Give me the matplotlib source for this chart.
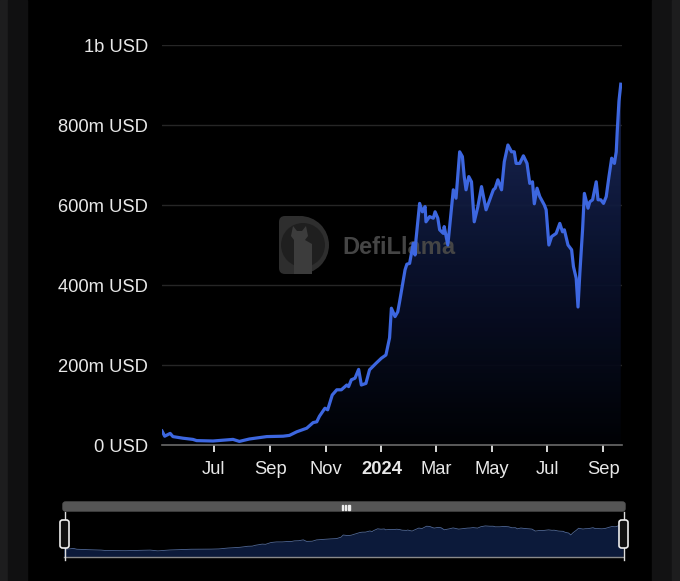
import matplotlib
matplotlib.use('Agg')
from matplotlib import pyplot as plt
from matplotlib.patches import FancyBboxPatch, Rectangle, Wedge, Circle, Polygon
import matplotlib.dates as mdates
import numpy as np
import pandas as pd

# TVL (millions of USD)
dates = ['2023-05-05', '2023-05-08', '2023-05-14', '2023-05-17', '2023-05-28',
         '2023-06-08', '2023-06-12', '2023-06-30', '2023-07-22', '2023-07-29',
         '2023-08-09', '2023-08-28', '2023-09-15', '2023-09-22', '2023-09-30',
         '2023-10-11', '2023-10-18', '2023-10-22', '2023-10-25', '2023-10-31',
         '2023-11-03', '2023-11-08', '2023-11-13', '2023-11-18', '2023-11-24',
         '2023-11-26', '2023-11-29', '2023-12-03', '2023-12-07', '2023-12-10',
         '2023-12-15', '2023-12-19', '2023-12-26', '2024-01-01', '2024-01-06',
         '2024-01-10', '2024-01-12', '2024-01-16', '2024-01-19', '2024-01-21',
         '2024-01-27', '2024-01-29', '2024-02-01', '2024-02-05', '2024-02-07',
         '2024-02-08', '2024-02-12', '2024-02-15', '2024-02-18', '2024-02-19',
         '2024-02-23', '2024-02-27', '2024-02-29', '2024-03-03', '2024-03-05',
         '2024-03-09', '2024-03-10', '2024-03-14', '2024-03-16', '2024-03-20',
         '2024-03-23', '2024-03-27', '2024-03-30', '2024-04-01', '2024-04-03',
         '2024-04-06', '2024-04-09', '2024-04-12', '2024-04-16', '2024-04-20',
         '2024-04-25', '2024-04-29', '2024-05-03', '2024-05-05', '2024-05-08',
         '2024-05-12', '2024-05-15', '2024-05-19', '2024-05-23', '2024-05-26',
         '2024-05-28', '2024-06-01', '2024-06-05', '2024-06-09', '2024-06-12',
         '2024-06-15', '2024-06-17', '2024-06-20', '2024-06-23', '2024-06-28',
         '2024-06-30', '2024-07-03', '2024-07-06', '2024-07-11', '2024-07-15',
         '2024-07-18', '2024-07-20', '2024-07-24', '2024-07-28', '2024-07-30',
         '2024-08-02', '2024-08-04', '2024-08-06', '2024-08-09', '2024-08-11',
         '2024-08-15', '2024-08-17', '2024-08-20', '2024-08-24', '2024-08-26',
         '2024-08-29', '2024-09-01', '2024-09-04', '2024-09-07', '2024-09-10',
         '2024-09-13', '2024-09-15', '2024-09-16', '2024-09-18', '2024-09-20']
tvl = [35, 22, 29, 21, 17,
       14, 11, 10, 14, 9,
       15, 21, 22, 24, 33,
       42, 56, 58, 72, 92,
       88, 125, 138, 138, 150,
       146, 163, 167, 189, 150,
       154, 188, 204, 217, 225,
       268, 342, 321, 333, 358,
       438, 452, 454, 504, 475,
       513, 604, 583, 596, 558,
       571, 567, 583, 567, 538,
       529, 546, 500, 546, 638,
       617, 733, 721, 671, 638,
       671, 658, 558, 596, 646,
       588, 613, 638, 642, 663,
       638, 708, 750, 733, 733,
       704, 704, 723, 704, 654,
       658, 603, 642, 621, 600,
       588, 500, 521, 529, 554,
       533, 538, 500, 488, 446,
       417, 345, 429, 538, 629,
       592, 608, 613, 658, 613,
       613, 604, 621, 671, 717,
       704, 733, 780, 860, 902]

y_ticks = [0, 200, 400, 600, 800, 1000]
y_labels = ['0 USD', '200m USD', '400m USD', '600m USD', '800m USD', '1b USD']
x_ticks = ['2023-07-01', '2023-09-01', '2023-11-01', '2024-01-01',
           '2024-03-01', '2024-05-01', '2024-07-01', '2024-09-01']
x_labels = ['Jul', 'Sep', 'Nov', '2024', 'Mar', 'May', 'Jul', 'Sep']

plt.rcParams['font.family'] = ['Liberation Sans', 'DejaVu Sans']

W, H = 680, 581
fig = plt.figure(figsize=(W / 100, H / 100), dpi=100)
fig.patch.set_facecolor('black')


def fx(px):
    return px / W


def fy(py):
    return 1 - py / H


# dark frame strips at the edges of the screenshot
for x0, w, c in [(0, 8, '#1d1d1e'), (8, 19, '#101011'),
                 (652, 20, '#121213'), (672, 8, '#1d1d1e')]:
    fig.patches.append(Rectangle((fx(x0), 0), w / W, 1, transform=fig.transFigure,
                                 color=c, zorder=0))

x = pd.to_datetime(dates)
xn = mdates.date2num(x)
v = np.array(tvl, dtype=float)
x_start = mdates.date2num(pd.Timestamp('2023-05-05'))
x_end = mdates.date2num(pd.Timestamp('2024-09-21'))

# pixel-space helper axes, used only as a transform for the watermark
px_ax = fig.add_axes([0, 0, 1, 1], zorder=0)
px_ax.set_xlim(0, W)
px_ax.set_ylim(H, 0)
px_ax.axis('off')

# ---------------- main chart ----------------
ax = fig.add_axes([fx(162), fy(445), (621.7 - 162) / W, 400 / H], zorder=1)
ax.set_facecolor('none')

# gradient fill under the line
poly = ax.fill_between(xn, v, 0, color='none', lw=0)
grad = np.linspace(0, 1, 256).reshape(-1, 1)
cmap = matplotlib.colors.LinearSegmentedColormap.from_list(
    'tvl', ['#010205', '#0b1330', '#1d2c60'])
img = ax.imshow(grad, cmap=cmap, aspect='auto', origin='lower',
                extent=[x_start, x_end, 0, 900], zorder=1, alpha=0.92)
img.set_clip_path(poly.get_paths()[0], transform=ax.transData)
ax.set_ylim(0, 1000)
ax.set_xlim(x_start, x_end)

# watermark: above the fill, below the line
T = px_ax.transData
wm_col, wm_dark, wm_light = '#2e2e2e', '#1f1f1f', '#3c3c3c'
for p in [FancyBboxPatch((279, 216), 26, 58, boxstyle='round,pad=0,rounding_size=6',
                         color=wm_col, lw=0),
          Wedge((300, 245), 29, -90, 90, color=wm_col, lw=0),
          Circle((303, 245), 22, color=wm_dark, lw=0),
          Polygon([[294, 274], [294, 240], [291, 236], [293, 226], [297, 231],
                   [302, 231], [306, 226], [308, 236], [305, 240], [312, 244],
                   [312, 274]], closed=True, color=wm_light, lw=0)]:
    p.set_transform(T)
    p.set_zorder(2)
    p.set_clip_on(False)
    ax.add_artist(p)
ax.text(342, 247, 'DefiLlama', transform=T, fontsize=17, fontweight='bold',
        color='#454545', va='center', ha='left', zorder=3)

ax.plot(xn, v, color='#3d67e0', lw=2.3, zorder=4, solid_joinstyle='round')

for t in y_ticks[1:]:
    ax.axhline(t, color='#262626', lw=1, zorder=0.5)

for s in ['top', 'right', 'left']:
    ax.spines[s].set_visible(False)
ax.spines['bottom'].set_color('#6a6a6a')
ax.spines['bottom'].set_linewidth(1.2)
ax.spines['bottom'].set_zorder(5)

ax.set_yticks(y_ticks)
ax.set_yticklabels(y_labels)
ax.tick_params(axis='y', length=0, pad=10, labelsize=13.2, labelcolor='#e8e8e8')
ax.set_xticks(mdates.date2num(pd.to_datetime(x_ticks)))
ax.set_xticklabels(x_labels)
ax.tick_params(axis='x', length=5, width=1.4, color='#d8d8d8', pad=6.5,
               labelsize=13.2, labelcolor='#e8e8e8')
for lab in ax.get_xticklabels():
    if lab.get_text() == '2024':
        lab.set_fontweight('bold')

# ---------------- overview slider ----------------
fig.patches.append(FancyBboxPatch((fx(63), fy(511)), 562 / W, 9 / H,
                                  boxstyle='round,pad=0,rounding_size=0.004',
                                  transform=fig.transFigure, color='#555555',
                                  zorder=2))
for dx in (-3.5, 0, 3.5):
    fig.patches.append(Rectangle((fx(345 + dx), fy(509.5)), 1.3 / W, 5 / H,
                                 transform=fig.transFigure, color='#eeeeee', zorder=3))

ov = fig.add_axes([fx(63.5), fy(557), (623 - 63.5) / W, 45 / H])
ov.set_facecolor('none')
ov_y = np.sqrt(v)
ov.fill_between(xn, ov_y, -3, color='#0c1a3a', lw=0)
ov.plot(xn, ov_y, color='#4f6796', lw=0.6)
ov.set_xlim(xn[0], xn[-1])
ov.set_ylim(-3, 41)
ov.axis('off')
fig.lines.append(plt.Line2D([fx(63.5), fx(623)], [fy(557), fy(557)],
                            transform=fig.transFigure, color='#8a8a8a', lw=1))

for hx in (64.5, 623.5):
    fig.lines.append(plt.Line2D([fx(hx), fx(hx)], [fy(512), fy(560)],
                                transform=fig.transFigure, color='#dddddd', lw=1))
    fig.patches.append(FancyBboxPatch((fx(hx - 4.5), fy(548)), 9 / W, 28 / H,
                                      boxstyle='round,pad=0,rounding_size=0.004',
                                      transform=fig.transFigure, facecolor='#111111',
                                      edgecolor='#eeeeee', lw=1.2, zorder=4))

fig.savefig('out.png', dpi=100, facecolor=fig.get_facecolor())
